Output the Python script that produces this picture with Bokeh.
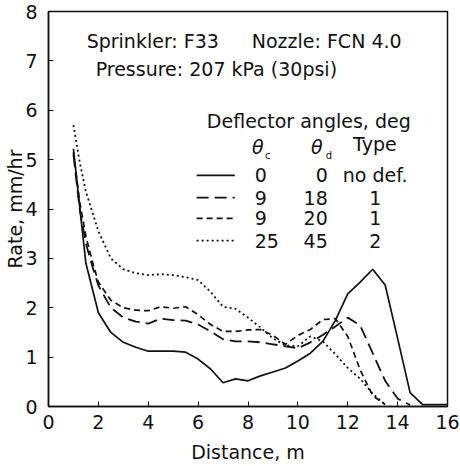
from bokeh.core.properties import value
from bokeh.embed import file_html
from bokeh.models import ColumnDataSource, Label, Range1d
from bokeh.plotting import figure
from bokeh.resources import INLINE

# Application rate (mm/hr) against distance from the sprinkler (m)
dist_nodef = [1, 1.25, 1.5, 2, 2.5, 3, 3.5, 4, 4.5, 5, 5.5, 6, 6.5, 7, 7.5, 8,
              8.5, 9, 9.5, 10, 10.5, 11, 11.5, 12, 12.5, 13, 13.5, 14, 14.5, 15, 15.5, 16]
rate_nodef = [5.22, 4.05, 2.9, 1.9, 1.5, 1.3, 1.2, 1.12, 1.12, 1.12, 1.1, 0.96, 0.76, 0.48, 0.56, 0.52,
              0.62, 0.7, 0.78, 0.92, 1.08, 1.32, 1.74, 2.28, 2.52, 2.78, 2.46, 1.38, 0.28, 0.04, 0.04, 0.04]

dist_9_18 = [1, 1.25, 1.5, 1.75, 2, 2.5, 3, 3.5, 4, 4.5, 5, 5.5, 6, 6.5, 7, 7.5,
             8, 8.5, 9, 9.5, 10, 10.5, 11, 11.5, 12, 12.5, 13, 13.5, 14, 14.5]
rate_9_18 = [5.1, 4.0, 3.3, 2.85, 2.45, 2.0, 1.8, 1.72, 1.68, 1.78, 1.75, 1.74, 1.66, 1.52, 1.36, 1.32,
             1.32, 1.3, 1.26, 1.22, 1.18, 1.3, 1.45, 1.62, 1.8, 1.64, 1.08, 0.52, 0.16, 0.03]

dist_9_20 = [1, 1.25, 1.5, 1.75, 2, 2.5, 3, 3.5, 4, 4.5, 5, 5.5, 6, 6.5, 7, 7.5,
             8, 8.5, 9, 9.5, 10, 10.5, 11, 11.5, 12, 12.5, 13, 13.5]
rate_9_20 = [5.15, 4.15, 3.45, 2.95, 2.52, 2.15, 2.0, 1.95, 1.94, 2.02, 1.99, 2.02, 1.86, 1.66, 1.52, 1.52,
             1.55, 1.56, 1.44, 1.26, 1.44, 1.56, 1.76, 1.78, 1.42, 0.74, 0.22, 0.04]

dist_25_45 = [1, 1.25, 1.5, 1.75, 2, 2.5, 3, 3.5, 4, 4.5, 5, 5.5, 6, 6.5, 7, 7.5,
              8, 8.5, 9, 9.5, 10, 10.5, 11, 11.5, 12, 12.5, 13, 13.5]
rate_25_45 = [5.7, 4.95, 4.35, 3.95, 3.55, 3.0, 2.78, 2.7, 2.66, 2.68, 2.66, 2.62, 2.56, 2.32, 2.02, 1.98,
              1.8, 1.6, 1.38, 1.24, 1.22, 1.42, 1.32, 1.06, 0.78, 0.56, 0.26, 0.04]

# Deflector table entries
theta_c = ["0", "9", "9", "25"]
theta_d = ["0", "18", "20", "45"]
defl_type = ["no def.", "1", "1", "2"]

x_ticks = [0, 2, 4, 6, 8, 10, 12, 14, 16]
y_ticks = [0, 1, 2, 3, 4, 5, 6, 7, 8]

FONT = "DejaVu Sans"
SIZE = "19px"
INK = "#111111"

p = figure(width=460, height=466, output_backend="svg", toolbar_location=None,
           x_range=Range1d(0, 16), y_range=Range1d(0, 8),
           min_border_left=48, min_border_right=13, min_border_top=11, min_border_bottom=60)
p.background_fill_color = "white"
p.border_fill_color = "white"
p.outline_line_color = INK
p.outline_line_width = 1.5
p.grid.visible = False

for ax in (p.xaxis[0], p.yaxis[0]):
    ax.axis_line_color = INK
    ax.axis_line_width = 1.5
    ax.major_tick_in = 5
    ax.major_tick_out = 0
    ax.minor_tick_line_color = None
    ax.major_tick_line_color = INK
    ax.major_label_text_font = FONT
    ax.major_label_text_font_size = SIZE
    ax.major_label_text_color = INK
    ax.axis_label_text_font = FONT
    ax.axis_label_text_font_style = "normal"
    ax.axis_label_text_font_size = SIZE
    ax.axis_label_text_color = INK

p.xaxis.ticker = x_ticks
p.yaxis.ticker = y_ticks
p.xaxis.major_label_standoff = 8
p.yaxis.major_label_standoff = 11
p.xaxis.axis_label = "Distance, m"
p.xaxis.axis_label_standoff = 9
p.yaxis.axis_label = "Rate, mm/hr"
p.yaxis.axis_label_standoff = -4

# Series curves
styles = [
    (dist_nodef, rate_nodef, "solid", 1.7),
    (dist_9_18, rate_9_18, "12 6", 1.8),
    (dist_9_20, rate_9_20, "6 4", 1.7),
    (dist_25_45, rate_25_45, "2 3", 1.8),
]
for xs, ys, dash, lw in styles:
    p.line(xs, ys, line_color=INK, line_width=lw, line_dash=dash)


def note(x, y, text, size=SIZE, align="left", style="normal"):
    p.add_layout(Label(x=x, y=y, text=text, text_font=FONT, text_font_size=size,
                       text_align=align, text_baseline="middle", text_color=INK,
                       text_font_style=style))


# Test conditions
note(1.53, 7.41, "Sprinkler: F33")
note(8.15, 7.41, "Nozzle: FCN 4.0")
note(1.89, 6.84, "Pressure: 207 kPa (30psi)")

# Deflector table header
note(6.35, 5.79, "Deflector angles, deg")
note(8.39, 5.25, "θ", align="center", style="italic")
note(8.68, 5.08, "c", size="10px")
note(10.76, 5.25, "θ", align="center", style="italic")
note(11.12, 5.08, "d", size="10px")
note(12.21, 5.32, "Type")

# Deflector table rows with line samples
row_y = [4.68, 4.23, 3.81, 3.36]
sample_x0, sample_x1 = 5.94, 7.47
for (xs, ys, dash, lw), ry in zip(styles, row_y):
    p.segment(x0=[sample_x0], y0=[ry], x1=[sample_x1], y1=[ry],
              line_color=INK, line_width=lw, line_dash=dash)

table = ColumnDataSource(dict(y=row_y, tc=theta_c, td=theta_d, tp=defl_type,
                              xc=[8.27] * 4, xd=[11.2] * 4, xt=[13.1] * 4))
for xcol, tcol, align in (("xc", "tc", "left"), ("xd", "td", "right"), ("xt", "tp", "center")):
    p.text(x=xcol, y="y", text=tcol, source=table, text_font=value(FONT),
           text_font_size=SIZE, text_align=align, text_baseline="middle", text_color=INK)

open("out.html", "w").write(file_html(p, INLINE))
